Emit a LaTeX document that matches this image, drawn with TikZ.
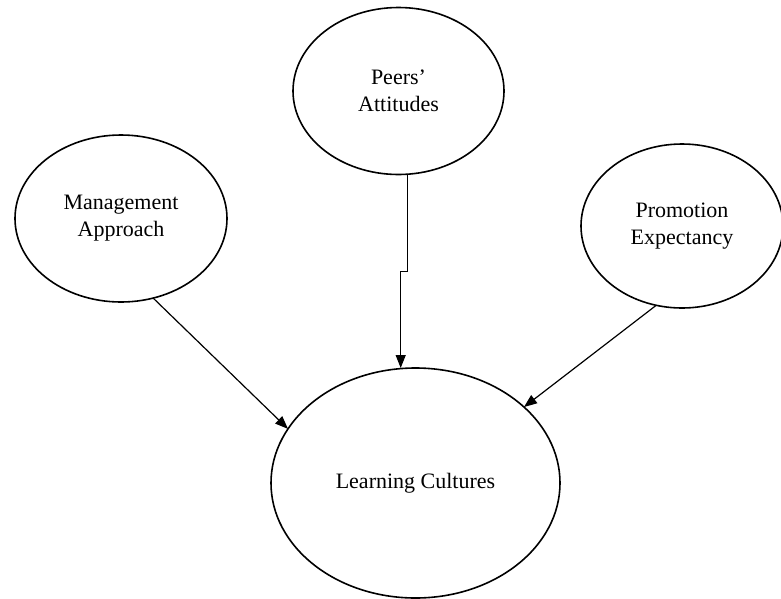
\documentclass[tikz,border=0pt]{standalone}
\usepackage{fontspec}
\setmainfont{Liberation Serif}
\usetikzlibrary{shapes.geometric,arrows.meta}
\begin{document}
\begin{tikzpicture}[x=1pt,y=-1pt,
  factor/.style={ellipse,draw,line width=1.6pt,inner sep=0pt,outer sep=0pt,
    align=center,font=\fontsize{22}{27}\selectfont},
  link/.style={line width=1.2pt,-{Triangle[length=13pt,width=10pt]}}]
  \useasboundingbox (0,0) rectangle (781,598);
  \clip (0,0) rectangle (781,598);

  % factors
  \node[factor,minimum width=211pt,minimum height=167pt] (peers) at (398.5,91) {Peers’\\Attitudes};
  \node[factor,minimum width=212pt,minimum height=167pt] (mgmt) at (121,218.5) {Management\\Approach};
  \node[factor,minimum width=202pt,minimum height=164pt] (promo) at (682,226) {Promotion\\Expectancy};
  \node[factor,minimum width=289pt,minimum height=230pt] (lc) at (415.5,483) {Learning Cultures};

  % influences on learning cultures
  \coordinate (jog) at (400.7,271.7);
  \draw[link] (mgmt.-68) -- (lc.157);
  \draw[link] (peers.-84) |- (jog) -- (jog |- lc.north);
  \draw[link] (promo.-108) -- (lc.35);
\end{tikzpicture}
\end{document}
